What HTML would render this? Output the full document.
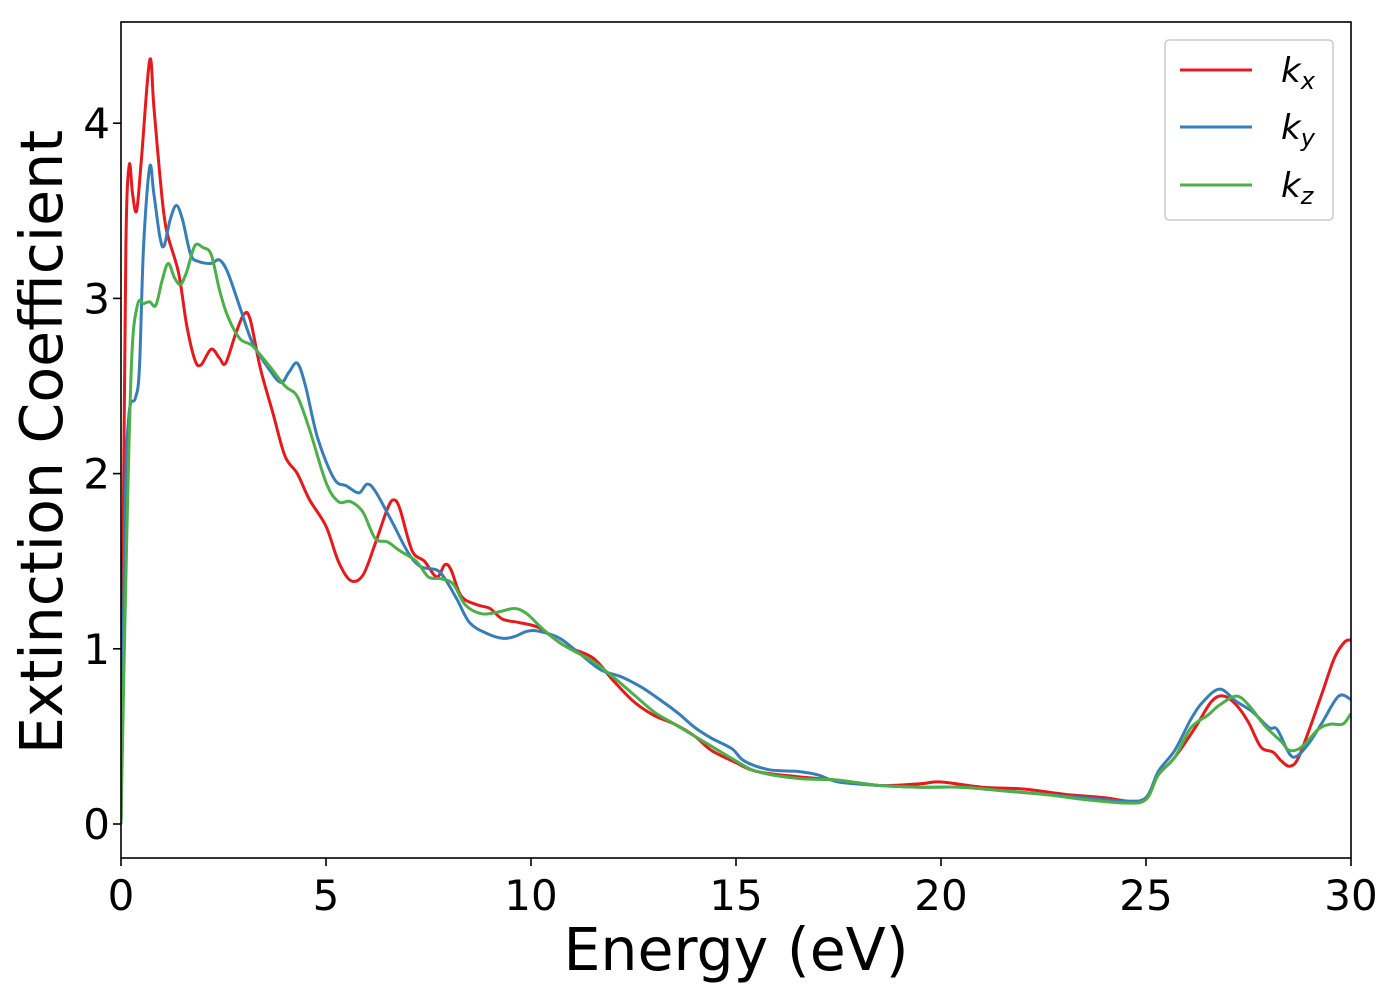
<!DOCTYPE html>
<html><head><meta charset="utf-8"><style>
body{margin:0;background:#fff}
svg text{font-family:"DejaVu Sans","Liberation Sans",sans-serif;fill:#000}
</style></head><body>
<svg id="chart" width="1400" height="1000" viewBox="0 0 1400 1000" xmlns="http://www.w3.org/2000/svg">
<rect width="1400" height="1000" fill="#fff"/>
<g id="series"></g>
<g id="axes"></g>
<g>
<rect x="1165" y="40" width="168" height="180" rx="4" fill="#fff" fill-opacity="0.8" stroke="#ccc" stroke-width="1.5"/>
<line x1="1180" y1="70" x2="1252" y2="70" stroke="#e41a1c" stroke-width="3"/>
<line x1="1180" y1="127" x2="1252" y2="127" stroke="#377eb8" stroke-width="3"/>
<line x1="1180" y1="185" x2="1252" y2="185" stroke="#4daf4a" stroke-width="3"/>
<text x="1281" y="82" font-size="34" font-style="italic">k<tspan font-size="24" dy="7">x</tspan></text>
<text x="1281" y="139" font-size="34" font-style="italic">k<tspan font-size="24" dy="7">y</tspan></text>
<text x="1281" y="197" font-size="34" font-style="italic">k<tspan font-size="24" dy="7">z</tspan></text>
</g>
<text x="736" y="970" font-size="58.5" text-anchor="middle">Energy (eV)</text>
<text transform="translate(62,442) rotate(-90)" font-size="58.5" text-anchor="middle">Extinction Coefficient</text>
</svg>
<script>
const xTicks=[0,5,10,15,20,25,30];
const yTicks=[0,1,2,3,4];
const kxE=[0,0.05,0.12,0.2,0.28,0.38,0.5,0.7,0.8,0.95,1.1,1.4,1.6,1.8,1.95,2.2,2.4,2.55,2.8,3.0,3.15,3.4,3.7,4.0,4.3,4.6,5.0,5.3,5.6,5.9,6.2,6.5,6.65,6.8,7.1,7.4,7.7,7.9,8.05,8.3,8.7,9.0,9.3,9.7,10.2,10.8,11.5,12.0,12.5,13.0,13.5,14.0,14.4,15.0,15.5,16.5,17.5,18.5,19.5,20.0,21,22,23,24,24.6,25.0,25.3,25.7,26.2,26.6,26.9,27.2,27.5,27.8,28.1,28.3,28.5,28.7,29.0,29.3,29.6,29.85,30];
const kxV=[0,1.5,3.3,3.76,3.6,3.5,3.8,4.36,4.1,3.7,3.4,3.15,2.85,2.65,2.62,2.71,2.66,2.63,2.8,2.91,2.88,2.6,2.35,2.1,2.0,1.85,1.7,1.5,1.39,1.42,1.6,1.8,1.85,1.8,1.56,1.5,1.41,1.48,1.45,1.3,1.25,1.23,1.17,1.15,1.12,1.02,0.95,0.82,0.7,0.62,0.57,0.5,0.42,0.35,0.3,0.27,0.25,0.22,0.23,0.24,0.21,0.2,0.17,0.15,0.13,0.15,0.28,0.38,0.55,0.7,0.73,0.68,0.58,0.44,0.41,0.36,0.33,0.37,0.55,0.75,0.95,1.04,1.05];
const kyE=[0,0.1,0.2,0.35,0.45,0.55,0.7,0.8,0.95,1.05,1.2,1.35,1.5,1.7,1.9,2.2,2.4,2.6,2.9,3.2,3.6,3.9,4.1,4.3,4.5,4.8,5.2,5.5,5.8,6.0,6.2,6.6,7.0,7.3,7.7,7.9,8.2,8.5,8.9,9.3,9.6,9.9,10.2,10.7,11.2,11.7,12.2,12.7,13.2,13.6,14.0,14.4,14.9,15.2,15.8,16.5,17.0,17.5,18.5,19.5,20.5,21.5,22.5,23.5,24.5,25.0,25.3,25.7,26.1,26.4,26.8,27.2,27.6,28.0,28.2,28.5,28.7,29.0,29.3,29.7,30];
const kyV=[0,1.8,2.35,2.43,2.6,3.3,3.75,3.6,3.35,3.3,3.45,3.53,3.45,3.25,3.21,3.2,3.22,3.15,2.95,2.75,2.6,2.52,2.58,2.63,2.5,2.2,1.97,1.93,1.89,1.94,1.9,1.73,1.55,1.47,1.45,1.4,1.28,1.15,1.09,1.06,1.07,1.1,1.1,1.06,0.97,0.88,0.84,0.78,0.7,0.63,0.55,0.49,0.43,0.36,0.31,0.3,0.28,0.24,0.22,0.21,0.21,0.19,0.17,0.15,0.13,0.15,0.3,0.42,0.6,0.7,0.77,0.7,0.64,0.55,0.54,0.4,0.39,0.47,0.58,0.73,0.71];
const kzE=[0,0.1,0.25,0.4,0.55,0.7,0.85,1.0,1.15,1.3,1.45,1.6,1.8,2.0,2.2,2.4,2.6,2.9,3.2,3.6,4.0,4.3,4.6,5.0,5.3,5.6,5.9,6.2,6.5,6.8,7.2,7.5,7.8,8.1,8.4,8.8,9.2,9.6,9.9,10.3,10.8,11.5,12.0,12.5,13.0,13.5,14.0,14.5,15.0,15.5,16.5,17.5,18.5,19.5,20.5,21.5,22.5,23.5,24.5,25.0,25.3,25.7,26.1,26.5,26.8,27.2,27.5,27.9,28.3,28.5,28.8,29.2,29.5,29.8,30];
const kzV=[0,1.2,2.6,2.96,2.97,2.98,2.96,3.1,3.2,3.12,3.08,3.15,3.3,3.29,3.25,3.05,2.9,2.77,2.73,2.62,2.5,2.44,2.25,1.95,1.84,1.84,1.78,1.63,1.61,1.56,1.5,1.41,1.4,1.37,1.25,1.2,1.21,1.23,1.2,1.11,1.02,0.93,0.84,0.74,0.64,0.57,0.5,0.43,0.36,0.3,0.26,0.25,0.22,0.21,0.21,0.19,0.17,0.14,0.12,0.14,0.28,0.38,0.55,0.62,0.68,0.73,0.68,0.56,0.47,0.42,0.44,0.54,0.57,0.57,0.63];

const X0=121,X1=1351,YT=22,YB=858;
const sx=v=>X0+(v-0)/30*(X1-X0);
const sy=v=>824-v*175.2;
const NS="http://www.w3.org/2000/svg";
function mk(t,a,p){const e=document.createElementNS(NS,t);for(const k in a)e.setAttribute(k,a[k]);p.appendChild(e);return e;}
function smooth(xs,ys){
  const p=xs.map((x,i)=>[sx(x),sy(ys[i])]);
  let d="M"+p[0][0].toFixed(1)+","+p[0][1].toFixed(1);
  for(let i=0;i<p.length-1;i++){
    const a=p[Math.max(0,i-1)],b=p[i],c=p[i+1],e=p[Math.min(p.length-1,i+2)];
    const c1=[b[0]+(c[0]-a[0])/6,b[1]+(c[1]-a[1])/6],c2=[c[0]-(e[0]-b[0])/6,c[1]-(e[1]-b[1])/6];
    d+="C"+c1.map(v=>v.toFixed(1))+" "+c2.map(v=>v.toFixed(1))+" "+c[0].toFixed(1)+","+c[1].toFixed(1);
  }
  return d;
}
const sg=document.getElementById('series');
mk('clipPath',{id:'clip'},sg).appendChild(document.createElementNS(NS,'rect'));
const cr=sg.querySelector('#clip rect');cr.setAttribute('x',X0);cr.setAttribute('y',YT);cr.setAttribute('width',X1-X0);cr.setAttribute('height',YB-YT);
const sets=[[kxE,kxV,'#e41a1c','series-kx'],[kyE,kyV,'#377eb8','series-ky'],[kzE,kzV,'#4daf4a','series-kz']];
sets.forEach(s=>{
  const el=mk('path',{d:smooth(s[0],s[1]),fill:'none',stroke:s[2],'stroke-width':3,'stroke-linejoin':'round','clip-path':'url(#clip)'},sg);
  
  
});
const ax=document.getElementById('axes');
const fr=mk('rect',{x:X0,y:YT,width:X1-X0,height:YB-YT,fill:'none',stroke:'#000','stroke-width':1.6},ax);


xTicks.forEach(t=>{
  const x=sx(t);
  const l=mk('line',{x1:x,y1:YB,x2:x,y2:YB+8,stroke:'#000','stroke-width':1.6},ax);
  
  
  const tx=mk('text',{x:x,y:910,'font-size':42,'text-anchor':'middle'},ax);tx.textContent=t;
  
  
});
yTicks.forEach(t=>{
  const y=sy(t);
  const l=mk('line',{x1:X0-8,y1:y,x2:X0,y2:y,stroke:'#000','stroke-width':1.6},ax);
  
  
  const tx=mk('text',{x:110,y:y+15,'font-size':42,'text-anchor':'end'},ax);tx.textContent=t;
  
  
});
</script>
</body></html>
